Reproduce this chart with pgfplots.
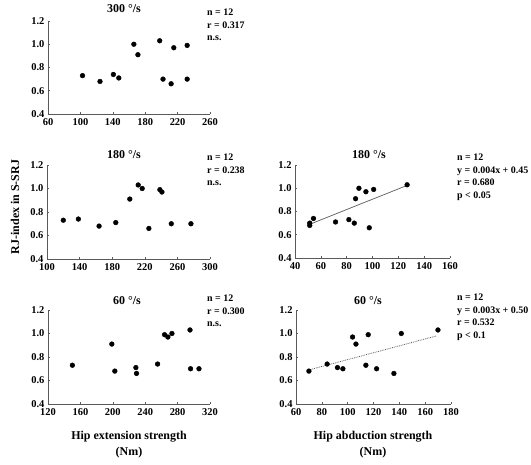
\documentclass[border=0pt]{standalone}
\usepackage{fontspec}
\setmainfont{Liberation Serif}
\usepackage{pgfplots}
\pgfplotsset{compat=1.18}
\definecolor{axgray}{RGB}{90,90,90}
\pgfplotsset{panel/.style={
  scale only axis, anchor=south west, clip=false,
  axis x line*=bottom, axis y line*=left,
  axis line style={-, axgray, line width=0.7pt},
  ymin=0.4, ymax=1.2, ytick={0.4,0.6,0.8,1.0,1.2},
  tick align=inside, major tick length=2pt,
  tick style={axgray, line width=0.5pt},
  yticklabel style={/pgf/number format/.cd, fixed, fixed zerofill, precision=1},
  tick label style={font=\bfseries\fontsize{10.5}{12}\selectfont, black},
  /pgf/number format/assume math mode=true,
  xticklabel style={yshift=-1pt},
}}
\tikzset{stat/.style={anchor=north west, align=left, font=\bfseries\fontsize{10}{12.5}\selectfont, inner sep=0pt},
  ttl/.style={font=\bfseries\fontsize{12}{14}\selectfont, inner sep=0pt},
  dot/.style={only marks, mark=*, mark size=2.4pt, black}}
\begin{document}
\begin{tikzpicture}
\useasboundingbox (0bp,0bp) rectangle (531bp,465bp);
% Top left: 300 deg/s, hip extension
\begin{axis}[panel, at={(48bp,351bp)}, width=162bp, height=93bp,
  xmin=60, xmax=260, xtick={60,100,140,180,220,260}]
\addplot[dot] coordinates {
(102.6,0.73) (124.2,0.68) (140.7,0.74) (147.4,0.71) (166,1.00) (171,0.91)
(197.9,1.03) (202,0.70) (212,0.66) (215.3,0.97) (231.8,0.99) (231.8,0.70)};
\end{axis}
% Middle left: 180 deg/s, hip extension
\begin{axis}[panel, at={(47bp,206bp)}, width=163bp, height=94bp,
  xmin=100, xmax=300, xtick={100,140,180,220,260,300}]
\addplot[dot] coordinates {
(120,0.73) (138.5,0.74) (163.9,0.68) (184.4,0.71) (201.6,0.91) (211.9,1.03)
(216.8,1.00) (225,0.66) (238.5,0.99) (241,0.97) (252.5,0.70) (276.6,0.70)};
\end{axis}
% Bottom left: 60 deg/s, hip extension
\begin{axis}[panel, at={(48bp,61bp)}, width=162bp, height=94bp,
  xmin=120, xmax=320, xtick={120,160,200,240,280,320}]
\addplot[dot] coordinates {
(150.1,0.73) (198.8,0.91) (202.5,0.68) (228.5,0.71) (229.3,0.66) (255.3,0.74)
(263.9,0.99) (268,0.97) (273,1.00) (295.3,1.03) (296,0.70) (306.4,0.70)};
\end{axis}
% Middle right: 180 deg/s, hip abduction
\begin{axis}[panel, at={(295bp,207bp)}, width=155bp, height=93bp,
  xmin=40, xmax=160, xtick={40,60,80,100,120,140,160}]
\addplot[axgray, line width=0.7pt] coordinates {(51.4,0.69) (125.8,1.02)};
\addplot[dot] coordinates {
(51.4,0.70) (51.4,0.68) (54.3,0.74) (71.4,0.71) (81.7,0.73) (85.9,0.70)
(86.9,0.91) (89.5,1.00) (94.9,0.97) (97.5,0.66) (100.9,0.99) (126.8,1.03)};
\end{axis}
% Bottom right: 60 deg/s, hip abduction
\begin{axis}[panel, at={(296bp,61bp)}, width=155bp, height=94bp,
  xmin=60, xmax=180, xtick={60,80,100,120,140,160,180}]
\addplot[axgray, line width=0.8pt, densely dotted] coordinates {(70,0.69) (169,0.98)};
\addplot[dot] coordinates {
(70,0.68) (84.1,0.74) (92.1,0.71) (96.3,0.70) (103.8,0.97) (106.4,0.91)
(114.1,0.73) (115.9,0.99) (122.4,0.70) (135.8,0.66) (141.5,1.00) (169.9,1.03)};
\end{axis}
% Titles
\node[ttl] at (124bp,456bp) {300 °/s};
\node[ttl] at (124bp,310bp) {180 °/s};
\node[ttl] at (127bp,164bp) {60 °/s};
\node[ttl] at (369bp,310bp) {180 °/s};
\node[ttl] at (368bp,164bp) {60 °/s};
% Statistics
\node[stat] at (207bp,456bp) {n = 12\\r = 0.317\\n.s.};
\node[stat] at (207bp,311bp) {n = 12\\r = 0.238\\n.s.};
\node[stat] at (207bp,170bp) {n = 12\\r = 0.300\\n.s.};
\node[stat] at (457bp,311bp) {n = 12\\y = 0.004x + 0.45\\r = 0.680\\p < 0.05};
\node[stat] at (457bp,171bp) {n = 12\\y = 0.003x + 0.50\\r = 0.532\\p < 0.1};
% Axis labels
\node[rotate=90, font=\bfseries\fontsize{12}{14}\selectfont, inner sep=0pt] at (15bp,258bp) {RJ-index in S-SRJ};
\node[align=center, font=\bfseries\fontsize{12}{16}\selectfont, inner sep=0pt] at (129bp,20bp) {Hip extension strength\\(Nm)};
\node[align=center, font=\bfseries\fontsize{12}{16}\selectfont, inner sep=0pt] at (373bp,20bp) {Hip abduction strength\\(Nm)};
\end{tikzpicture}
\end{document}
